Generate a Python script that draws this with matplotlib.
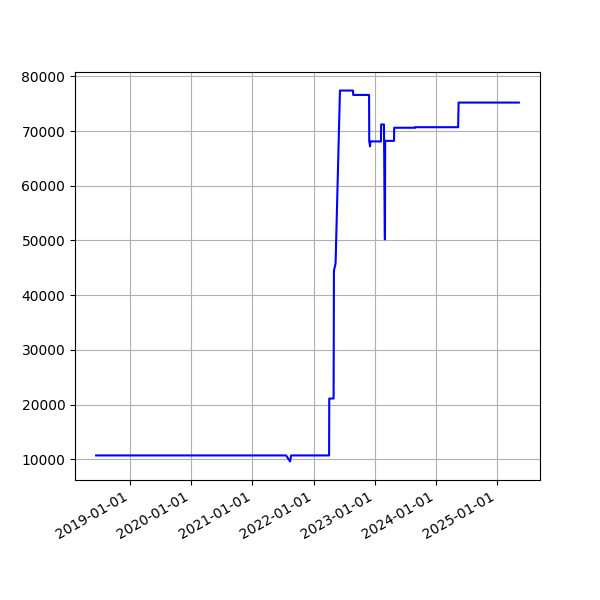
import matplotlib
matplotlib.use("Agg")
import matplotlib.pyplot as plt
import matplotlib.dates as mdates
import pandas as pd

dates = [
    "2018-06-12", "2021-07-21", "2021-08-14", "2021-08-20", "2021-09-01",
    "2022-04-04", "2022-04-05", "2022-05-01", "2022-05-03", "2022-05-12",
    "2022-05-13", "2022-06-08", "2022-08-25", "2022-08-26", "2022-11-29",
    "2022-11-30", "2022-12-05", "2022-12-06", "2022-12-11", "2023-02-08",
    "2023-02-09", "2023-02-26", "2023-03-03", "2023-03-04", "2023-03-05",
    "2023-04-27", "2023-04-28", "2023-08-30", "2023-08-31", "2024-05-14",
    "2024-05-17", "2025-05-12",
]
values = [
    10700, 10700, 9600, 10700, 10700,
    10700, 21100, 21100, 44500, 45700,
    46000, 77400, 77400, 76600, 76600,
    68100, 67200, 68100, 68100, 68100,
    71200, 71200, 50200, 50200, 68200,
    68200, 70600, 70600, 70700, 70700,
    75200, 75200,
]

x = pd.to_datetime(dates)

fig, ax = plt.subplots(figsize=(6, 6), dpi=100)
ax.plot(x, values, color="blue")
ax.grid(True)
ax.xaxis.set_major_locator(mdates.YearLocator())
ax.xaxis.set_major_formatter(mdates.DateFormatter("%Y-%m-%d"))
fig.autofmt_xdate()
fig.savefig("out.png", dpi=100)
